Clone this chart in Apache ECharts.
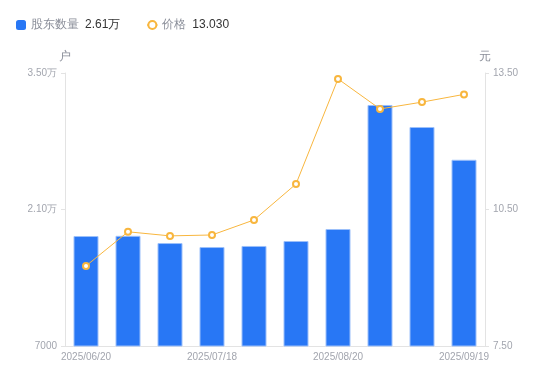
<!DOCTYPE html>
<html><head><meta charset="utf-8">
<script src="https://cdn.jsdelivr.net/npm/echarts@6/dist/echarts.min.js"></script>
<style>html,body{margin:0;padding:0;background:#fff}#c{width:550px;height:381px}</style>
</head><body><div id="c"></div>
<script>
var categories = ['2025/06/20','2025/06/30','2025/07/10','2025/07/18','2025/07/31','2025/08/10','2025/08/20','2025/08/31','2025/09/10','2025/09/19'];
var holders = [18280, 18300, 17560, 17150, 17260, 17770, 19000, 31720, 29460, 26100];
var prices = [9.26, 10.01, 9.92, 9.94, 10.27, 11.06, 13.37, 12.71, 12.86, 13.03];
var leftTicks = [7000, 35000, 14000];
var rightTicks = [7.5, 13.5, 3];

function fmtHolder(v){ return v >= 10000 ? (v/10000).toFixed(2) + '万' : String(v); }

var chart = echarts.init(document.getElementById('c'));
var lastH = holders[holders.length-1], lastP = prices[prices.length-1];
chart.setOption({
  animation: false,
  legend: {
    left: 11, top: 14, itemGap: 26, itemWidth: 10, itemHeight: 10,
    textStyle: { fontSize: 12, rich: { n: { color: '#8a8e99', fontSize: 12 }, v: { color: '#333', fontSize: 12, padding: [0,0,0,6] } } },
    formatter: function(name){
      return name === '股东数量' ? '{n|股东数量}{v|' + fmtHolder(lastH) + '}' : '{n|价格}{v|' + lastP.toFixed(3) + '}';
    },
    data: [{ name: '股东数量', icon: 'roundRect', itemStyle: { borderWidth: 0 } }, { name: '价格' }]
  },
  grid: { left: 65, right: 65, top: 73, bottom: 35 },
  xAxis: {
    type: 'category', data: categories,
    axisLine: { lineStyle: { color: '#e3e3e3' } },
    axisTick: { show: false },
    axisLabel: { color: '#a2a5ae', fontSize: 10, interval: 2, margin: 6 }
  },
  yAxis: [{
    type: 'value', name: '户', min: leftTicks[0], max: leftTicks[1], interval: leftTicks[2],
    nameTextStyle: { color: '#8a8e99', fontSize: 12 }, nameGap: 10,
    axisLine: { show: true, lineStyle: { color: '#e3e3e3' } },
    axisTick: { show: true, length: 4, lineStyle: { color: '#e3e3e3' } },
    splitLine: { show: false },
    axisLabel: { color: '#a2a5ae', fontSize: 10, formatter: fmtHolder, margin: 8 }
  }, {
    type: 'value', name: '元', min: rightTicks[0], max: rightTicks[1], interval: rightTicks[2],
    nameTextStyle: { color: '#8a8e99', fontSize: 12 }, nameGap: 10,
    axisLine: { show: true, lineStyle: { color: '#e3e3e3' } },
    axisTick: { show: true, length: 4, lineStyle: { color: '#e3e3e3' } },
    splitLine: { show: false },
    axisLabel: { color: '#a2a5ae', fontSize: 10, formatter: function(v){ return v.toFixed(2); }, margin: 8 }
  }],
  series: [{
    name: '股东数量', type: 'bar', data: holders, barWidth: 25,
    itemStyle: { color: '#2877f5', borderColor: '#9cc0fa', borderWidth: 1 }
  }, {
    name: '价格', type: 'line', yAxisIndex: 1, data: prices,
    symbol: 'emptyCircle', symbolSize: 6, showAllSymbol: true,
    lineStyle: { color: '#f8b63e', width: 1 },
    itemStyle: { color: '#f8b63e', borderWidth: 2 }
  }]
});
</script></body></html>
